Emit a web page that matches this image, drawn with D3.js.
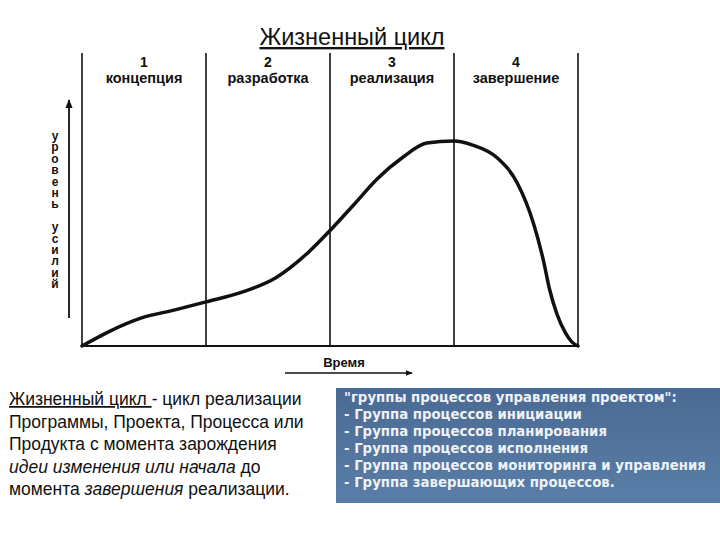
<!DOCTYPE html>
<html>
<head>
<meta charset="utf-8">
<script src="https://cdn.jsdelivr.net/npm/d3@7"></script>
<style>
  body { margin: 0; background: #fff; }
  svg { display: block; font-family: "Liberation Sans", Arial, sans-serif; }
  .yLabel { writing-mode: vertical-rl; text-orientation: upright; }
</style>
</head>
<body>
<div id="chart"></div>
<script>
// Phases of the life cycle
const phaseNumbers = ["1", "2", "3", "4"];
const phaseNames = ["концепция", "разработка", "реализация", "завершение"];

// Effort curve (time in phases, effort in % of peak)
const timeValues = [0, 0.21, 0.48, 0.75, 1.0, 1.29, 1.56, 1.82, 2.02, 2.19, 2.38, 2.59, 2.78, 3.0, 3.15, 3.35, 3.51, 3.64, 3.72, 3.77, 3.83, 3.90, 3.95, 4.0];
const effortValues = [0, 6.8, 13.7, 17.6, 21.5, 26.3, 33.2, 45.4, 57.6, 68.8, 81.5, 92.2, 99, 100, 98, 91.7, 79.5, 60, 42, 27.8, 15.6, 6.3, 2, 0];

// Texts
const titleText = "Жизненный цикл";
const yLabelText = "уровень усилий";
const xLabelText = "Время";
const definitionLines = [
    [{ t: "Жизненный цикл ", u: true }, { t: "- цикл реализации" }],
    [{ t: "Программы, Проекта, Процесса или" }],
    [{ t: "Продукта с момента зарождения" }],
    [{ t: "идеи изменения или начала", i: true }, { t: "  до" }],
    [{ t: "момента " }, { t: "завершения", i: true }, { t: " реализации." }]
];
const groupLines = [
    "\"группы процессов управления проектом\":",
    "- Группа процессов инициации",
    "- Группа процессов планирования",
    "- Группа процессов исполнения",
    "- Группа процессов мониторинга и управления",
    "- Группа завершающих процессов."
];

const width = 720, height = 540;
const svg = d3.select("#chart").append("svg")
    .attr("width", width)
    .attr("height", height);

const defs = svg.append("defs");
defs.append("marker")
    .attr("id", "arrow")
    .attr("viewBox", "0 0 10 10")
    .attr("refX", 9).attr("refY", 5)
    .attr("markerWidth", 5).attr("markerHeight", 5)
    .attr("markerUnits", "strokeWidth")
    .attr("orient", "auto")
    .append("path")
    .attr("d", "M0,1 L10,5 L0,9 z")
    .attr("fill", "#111");

const boxGrad = defs.append("linearGradient")
    .attr("id", "boxGrad")
    .attr("x1", 0).attr("y1", 0).attr("x2", 0).attr("y2", 1);
boxGrad.append("stop").attr("offset", "0%").attr("stop-color", "#4a6a93");
boxGrad.append("stop").attr("offset", "100%").attr("stop-color", "#5a7ea8");

// Scales
const x = d3.scaleLinear().domain([0, 4]).range([82, 578]);
const y = d3.scaleLinear().domain([0, 100]).range([346, 141]);
const frameTop = 53;

// Title
svg.append("text")
    .attr("x", 352).attr("y", 45)
    .attr("text-anchor", "middle")
    .attr("font-size", 23.5)
    .attr("text-decoration", "underline")
    .attr("fill", "#111")
    .text(titleText);

// Phase boundaries
svg.selectAll(".phaseLine")
    .data(d3.range(0, 5))
    .enter()
    .append("line")
    .attr("class", "phaseLine")
    .attr("x1", d => x(d)).attr("x2", d => x(d))
    .attr("y1", frameTop).attr("y2", y(0))
    .attr("stroke", "#111")
    .attr("stroke-width", 1.6);

// Baseline
svg.append("line")
    .attr("x1", x(0) - 1).attr("x2", x(4) + 1)
    .attr("y1", y(0)).attr("y2", y(0))
    .attr("stroke", "#111")
    .attr("stroke-width", 2.2);

// Phase labels
const phaseLabel = svg.selectAll(".phaseLabel")
    .data(phaseNames)
    .enter()
    .append("g")
    .attr("class", "phaseLabel")
    .attr("transform", (d, i) => "translate(" + x(i + 0.5) + ",0)");
phaseLabel.append("text")
    .attr("y", 67)
    .attr("text-anchor", "middle")
    .attr("font-size", 14)
    .attr("font-weight", "bold")
    .attr("fill", "#111")
    .text((d, i) => phaseNumbers[i]);
phaseLabel.append("text")
    .attr("y", 83)
    .attr("text-anchor", "middle")
    .attr("font-size", 14.5)
    .attr("font-weight", "bold")
    .attr("fill", "#111")
    .text(d => d);

// Effort curve
const points = timeValues.map((t, i) => [t, effortValues[i]]);
svg.append("path")
    .datum(points)
    .attr("d", d3.line()
        .x(d => x(d[0]))
        .y(d => y(d[1]))
        .curve(d3.curveMonotoneX))
    .attr("fill", "none")
    .attr("stroke", "#111")
    .attr("stroke-width", 3.5)
    .attr("stroke-linecap", "round");

// Y axis arrow
svg.append("line")
    .attr("x1", 69).attr("x2", 69)
    .attr("y1", 318).attr("y2", 100)
    .attr("stroke", "#111")
    .attr("stroke-width", 1.8)
    .attr("marker-end", "url(#arrow)");

// Y label, letters stacked upright
svg.append("text")
    .attr("class", "yLabel")
    .attr("x", 55).attr("y", 129)
    .attr("font-size", 12)
    .attr("font-weight", "bold")
    .attr("letter-spacing", -2.6)
    .attr("fill", "#111")
    .text(yLabelText);

// X label and arrow
svg.append("text")
    .attr("x", 344).attr("y", 367)
    .attr("text-anchor", "middle")
    .attr("font-size", 13)
    .attr("font-weight", "bold")
    .attr("fill", "#111")
    .text(xLabelText);
svg.append("line")
    .attr("x1", 285).attr("x2", 412)
    .attr("y1", 373).attr("y2", 373)
    .attr("stroke", "#111")
    .attr("stroke-width", 1.4)
    .attr("marker-end", "url(#arrow)");

// Definition text
const def = svg.append("text")
    .attr("font-size", 17.5)
    .attr("fill", "#111");
definitionLines.forEach((line, li) => {
    line.forEach((seg, si) => {
        const ts = def.append("tspan").text(seg.t);
        if (si === 0) ts.attr("x", 9).attr("y", 405 + li * 22.5);
        if (seg.u) ts.attr("text-decoration", "underline");
        if (seg.i) ts.attr("font-style", "italic");
    });
});

// Process groups box
svg.append("rect")
    .attr("x", 336).attr("y", 388)
    .attr("width", width - 336).attr("height", 115)
    .attr("fill", "url(#boxGrad)");
svg.selectAll(".groupLine")
    .data(groupLines)
    .enter()
    .append("text")
    .attr("class", "groupLine")
    .attr("x", 344)
    .attr("y", (d, i) => 402 + i * 17)
    .attr("font-family", "\"DejaVu Sans\", sans-serif")
    .attr("font-size", 13.3)
    .attr("font-weight", "bold")
    .attr("fill", "#eef2f7")
    .text(d => d);
</script>
</body>
</html>
